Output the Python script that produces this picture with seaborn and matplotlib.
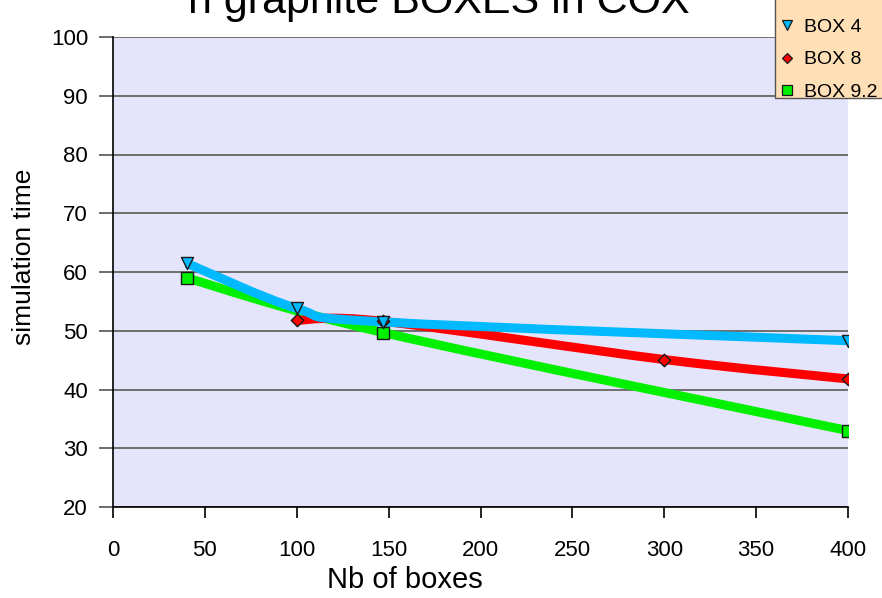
import numpy as np
import pandas as pd
import matplotlib
matplotlib.use("Agg")
import matplotlib.pyplot as plt
from matplotlib.path import Path
from matplotlib.patches import PathPatch, Rectangle
from matplotlib.lines import Line2D
import seaborn as sns

# Simulation time versus number of graphite boxes, one series per BOX version
box4_n = [40, 100, 147, 400]
box4_t = [61.5, 53.8, 51.5, 48.3]

box8_n = [100, 147, 300, 400]
box8_t = [51.8, 51.6, 45.1, 41.8]

box92_n = [40, 147, 400]
box92_t = [59.0, 49.7, 33.0]

series_names = ["BOX 4", "BOX 8", "BOX 9.2"]
x_ticks = [0, 50, 100, 150, 200, 250, 300, 350, 400]
y_ticks = [20, 30, 40, 50, 60, 70, 80, 90, 100]

colors = {"BOX 4": "#00B9FF", "BOX 8": "#FF0000", "BOX 9.2": "#00F000"}
markers = {"BOX 4": "v", "BOX 8": "D", "BOX 9.2": "s"}
marker_sizes = {"BOX 4": 75, "BOX 8": 40, "BOX 9.2": 70}

sns.set_theme(style="white")
plt.rcParams["font.family"] = ["Liberation Sans", "DejaVu Sans"]
plt.rcParams["text.color"] = "black"
plt.rcParams["axes.labelcolor"] = "black"
plt.rcParams["xtick.color"] = "black"
plt.rcParams["ytick.color"] = "black"

fig = plt.figure(figsize=(8.82, 5.98), dpi=100)
ax = fig.add_axes([113 / 882, 1 - 507 / 598, (848 - 113) / 882, (507 - 37) / 598])
ax.set_facecolor("#E4E4FA")


def smooth_path(xs, ys):
    """Cubic Bezier path through the points (Catmull-Rom style smoothing)."""
    pts = np.column_stack([xs, ys]).astype(float)
    verts = [pts[0]]
    codes = [Path.MOVETO]
    n = len(pts)
    for i in range(n - 1):
        p0 = pts[i - 1] if i > 0 else pts[i]
        p1 = pts[i]
        p2 = pts[i + 1]
        p3 = pts[i + 2] if i + 2 < n else pts[i + 1]
        c1 = p1 + (p2 - p0) / 6.0
        c2 = p2 - (p3 - p1) / 6.0
        verts += [c1, c2, p2]
        codes += [Path.CURVE4] * 3
    return Path(verts, codes)


data = {
    "BOX 4": (box4_n, box4_t),
    "BOX 8": (box8_n, box8_t),
    "BOX 9.2": (box92_n, box92_t),
}

# smoothed curves: green at the bottom, cyan on top
for z, name in zip([3, 4, 5], ["BOX 9.2", "BOX 8", "BOX 4"]):
    xs, ys = data[name]
    patch = PathPatch(smooth_path(xs, ys), facecolor="none",
                      edgecolor=colors[name], lw=6.5, zorder=z,
                      capstyle="butt", joinstyle="round")
    ax.add_patch(patch)

# point markers
frames = []
for name in series_names:
    xs, ys = data[name]
    frames.append(pd.DataFrame({"n": xs, "t": ys, "series": name}))
df = pd.concat(frames, ignore_index=True)

for z, name in zip([6, 7, 8], ["BOX 9.2", "BOX 8", "BOX 4"]):
    sub = df[df["series"] == name]
    sns.scatterplot(data=sub, x="n", y="t", ax=ax, color=colors[name],
                    marker=markers[name], s=marker_sizes[name],
                    edgecolor="#1a1a1a", linewidth=1.0, zorder=z, legend=False)

ax.set_xlim(0, 400)
ax.set_ylim(20, 100)
ax.set_xticks(x_ticks)
ax.set_yticks(y_ticks)
ax.set_xticklabels([str(v) for v in x_ticks], fontsize=16, color="black")
ax.set_yticklabels([str(v) for v in y_ticks], fontsize=16, color="black")
ax.yaxis.grid(True, color="#6E6E6E", linewidth=1.4)
ax.set_axisbelow(True)

for side in ["top", "right"]:
    ax.spines[side].set_visible(False)
ax.spines["left"].set_color("black")
ax.spines["bottom"].set_color("black")
ax.spines["left"].set_linewidth(1.2)
ax.spines["bottom"].set_linewidth(1.2)
ax.tick_params(axis="y", which="both", left=True, length=10, width=1.4,
               color="#6E6E6E", pad=8, labelcolor="black")
ax.tick_params(axis="x", which="both", bottom=True, length=8, width=1.2,
               color="black", pad=16, labelcolor="black")

ax.set_xlabel("Nb of boxes", fontsize=21, color="black")
ax.xaxis.set_label_coords((405 - 113) / 735, (507 - 566) / 470)
ax.set_ylabel("simulation time", fontsize=19, color="black")
ax.yaxis.set_label_coords((36 - 113) / 735, (507 - 257) / 470)

fig.text(0.497, 1 - 13 / 598, "n graphite BOXES in COX", ha="center",
         va="baseline", fontsize=31, color="black")

# legend panel: peach box running off the top-right corner
fig.patches.append(Rectangle((775 / 882, 1 - 98 / 598), 0.2, 0.2,
                             transform=fig.transFigure, facecolor="#FEDFB6",
                             edgecolor="#555555", linewidth=1.0, zorder=5))

handles = [Line2D([0], [0], linestyle="none", marker=markers[name],
                  markerfacecolor=colors[name], markeredgecolor="#1a1a1a",
                  markersize=7 if name != "BOX 8" else 5.5, markeredgewidth=0.9)
           for name in series_names]
leg = fig.legend(handles, series_names, loc="lower left",
                 bbox_to_anchor=(775 / 882, 1 - 104 / 598), fontsize=14,
                 frameon=False, borderaxespad=0,
                 handlelength=0.9, handletextpad=0.45, labelspacing=0.78,
                 borderpad=0.15, labelcolor="black")
leg.set_zorder(10)

fig.savefig("out.png", dpi=100)
